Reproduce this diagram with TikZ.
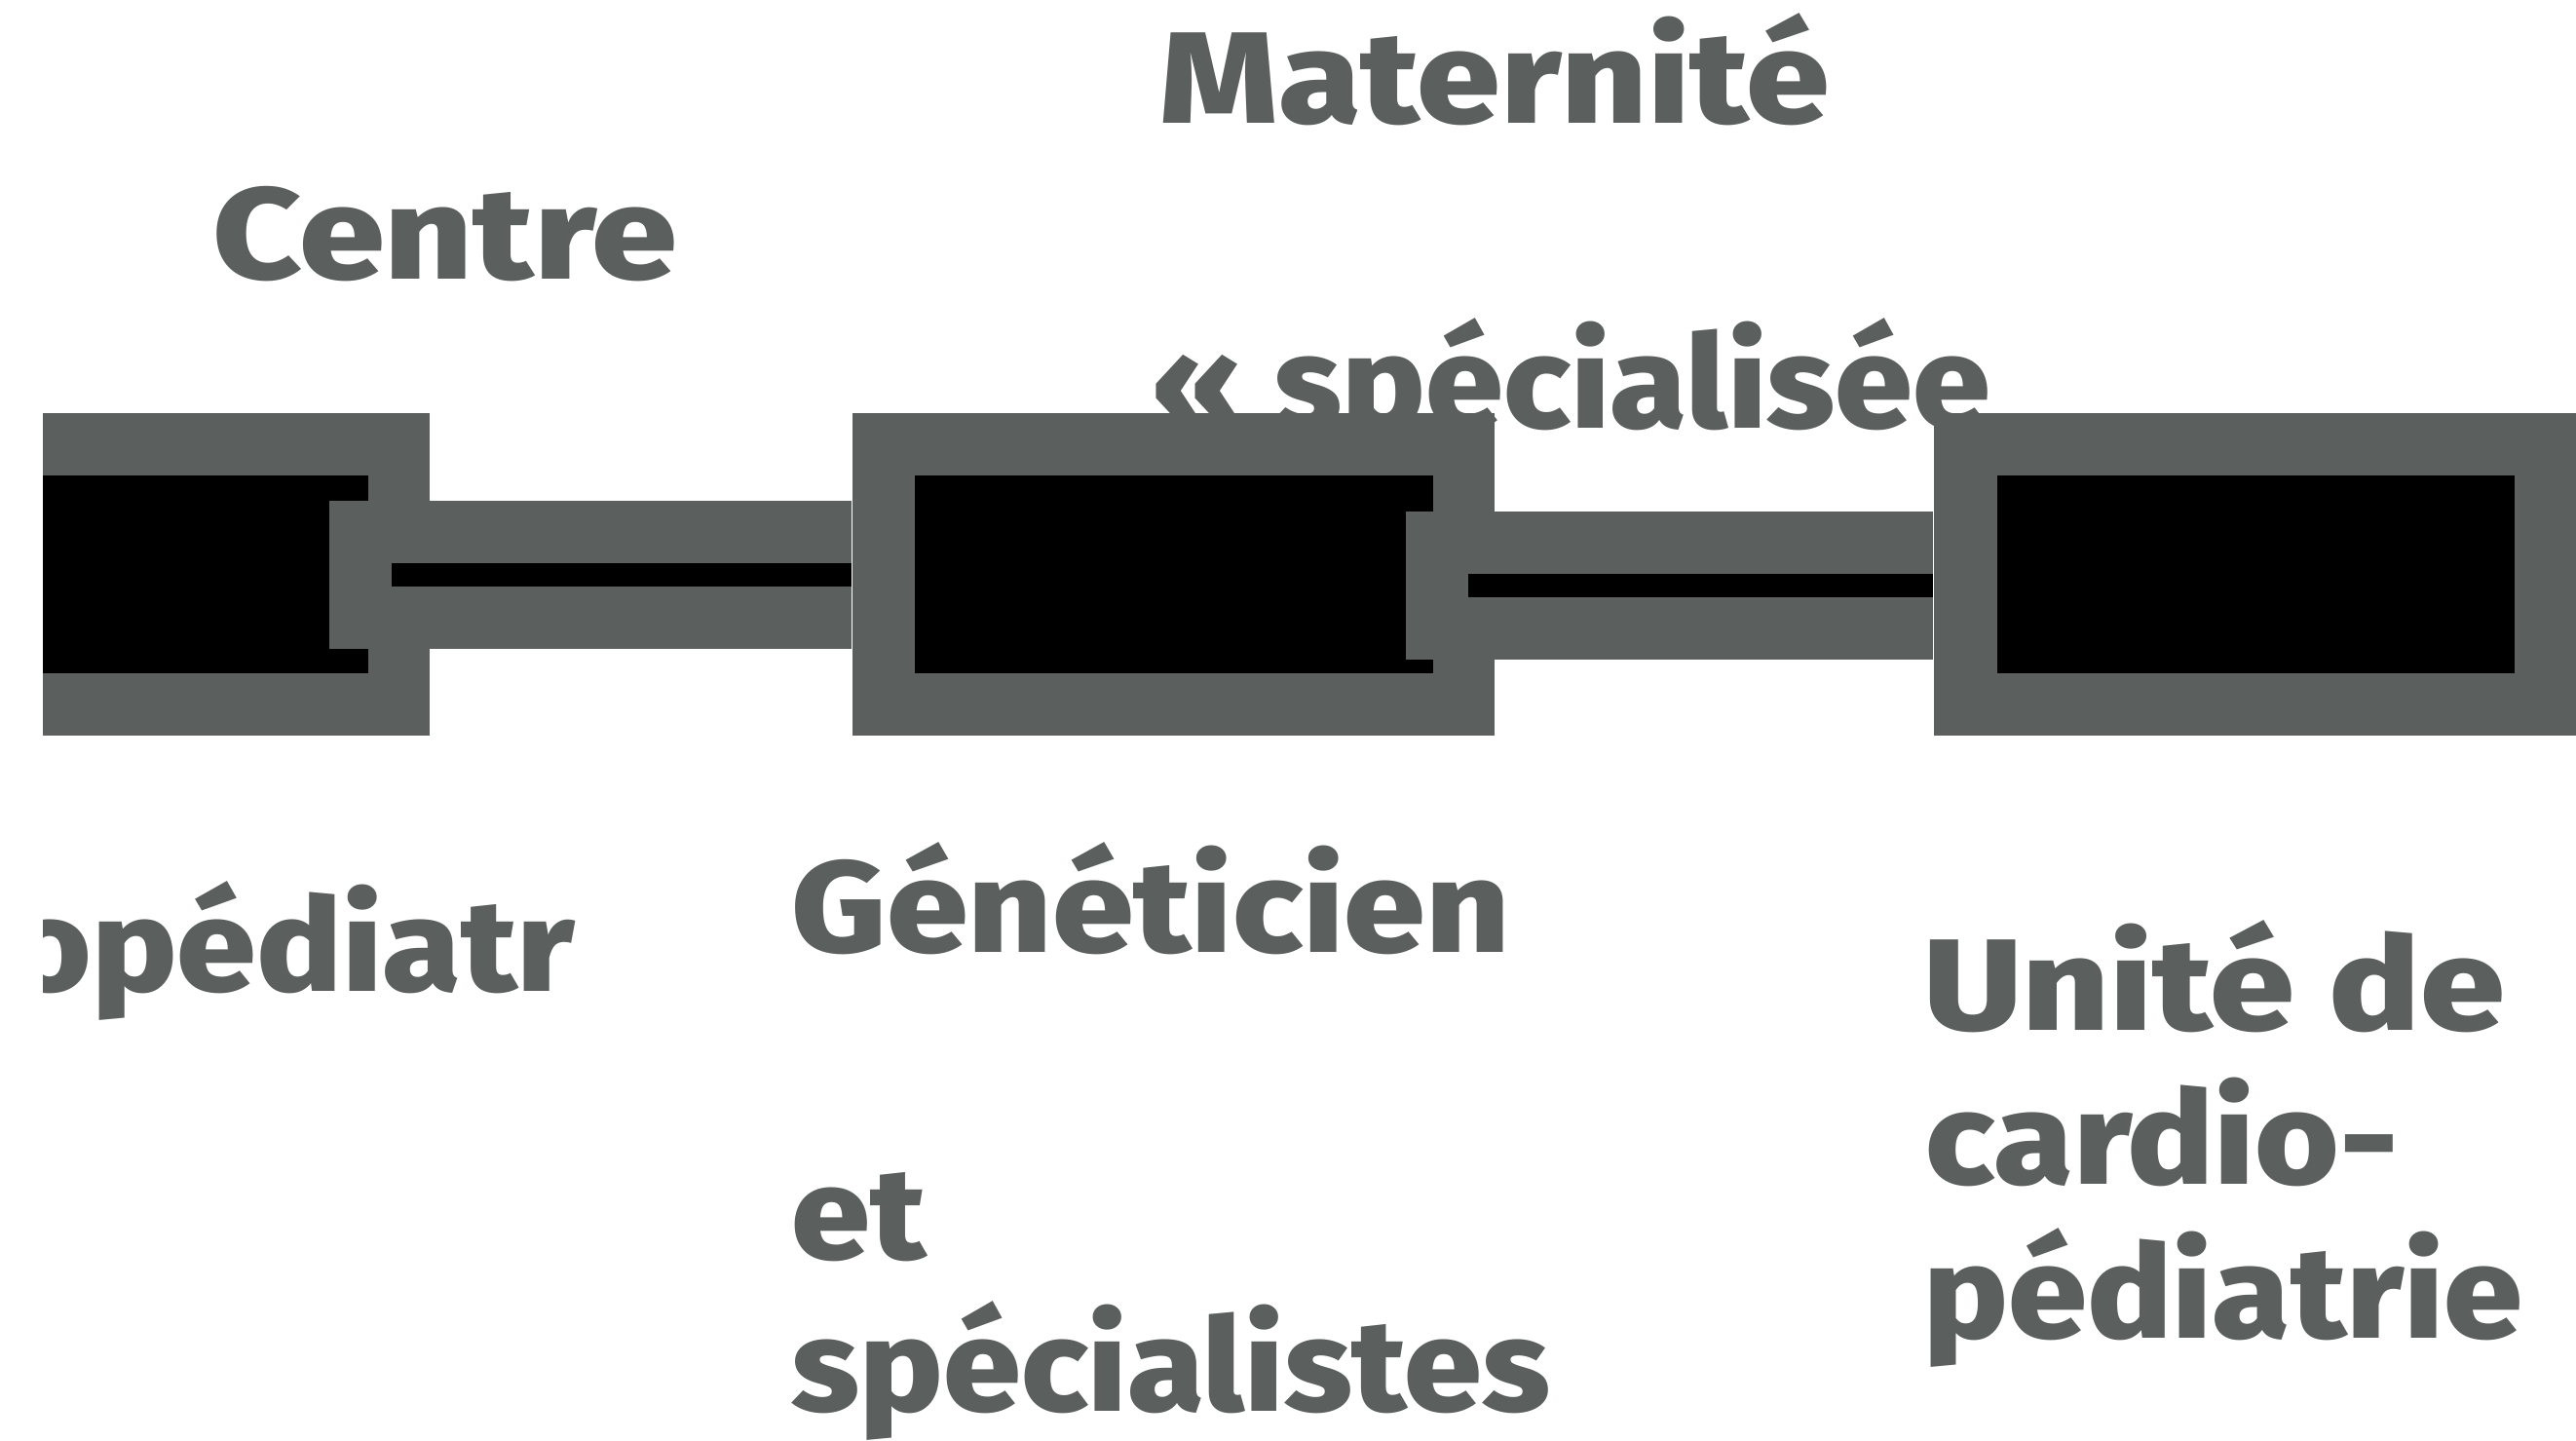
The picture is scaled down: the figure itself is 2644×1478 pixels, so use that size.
\documentclass[tikz,border=0pt]{standalone}
\usepackage{fontspec}
\IfFontExistsTF{Fira Sans Heavy}
  {\newfontfamily\labelfont{Fira Sans Heavy}[FakeStretch=1.06]}
  {\IfFontExistsTF{Fira Sans ExtraBold}
     {\newfontfamily\labelfont{Fira Sans ExtraBold}[FakeStretch=1.09]}
     {\newfontfamily\labelfont{Fira Sans}[UprightFont=* Bold, FakeStretch=1.12, FakeBold=1.2]}}
\definecolor{slate}{HTML}{5B5F5D}
% widen a label horizontally by a given factor
\newcommand\widen[2]{\scalebox{#1}[1]{#2}}
\tikzset{
  lbl/.style={anchor=base west, inner sep=0pt, text=slate,
    font=\labelfont\fontsize{38}{45}\selectfont},
  shell/.style={fill=slate, draw=none, inner sep=0pt,
    minimum height=33.1mm},
  core/.style={fill=black, draw=none, inner sep=0pt,
    minimum height=20.3mm},
  band/.style={draw=slate, line width=15.2mm, line cap=butt},
  wire/.style={draw=black, line width=2.4mm, line cap=butt}
}
\begin{document}
\begin{tikzpicture}[x=0.1mm, y=-0.1mm]
\useasboundingbox (0,0) rectangle (2644,1478);
\clip (0,0) rectangle (2644,1478);
\fill[white] (0,0) rectangle (2644,1478);

% labels (the boxes are laid over them afterwards)
\node[lbl] (mat)  at (1190,126)  {\widen{1.058}{Maternité}};
\node[lbl] (spec) at (1182,439)  {\widen{0.986}{« spécialisée}};
\node[lbl] (ctr)  at (218,286)   {\widen{1.086}{Centre}};
\begin{scope}
  \clip (44,880) rectangle (640,1100);
  \node[lbl] (ped) at (8,1017) {\widen{1.007}{opédiatr}};
\end{scope}
\node[lbl] (gen)  at (812,977)   {\widen{1.033}{Généticien}};
\node[lbl] (et)   at (812,1292)  {et};
\node[lbl] (spl)  at (812,1448)  {\widen{0.985}{spécialistes}};
\node[lbl] (ua)   at (1974,1057) {\widen{1.074}{Unité de}};
\node[lbl] (ub)   at (1976,1215) {\widen{1.02}{cardio-}};
\node[lbl] (uc)   at (1974,1373) {pédiatrie};

% the three stations
\node[shell, minimum width=39.7mm] (b1) at (242.5,589.5) {};
\node[core,  minimum width=33.4mm] (k1) at (211,589.5) {};
\node[shell, minimum width=65.9mm] (b2) at (1204.5,589.5) {};
\node[core,  minimum width=53.2mm] (k2) at (1205,589.5) {};
\node[shell, minimum width=70mm]   (b3) at (2335,589.5) {};
\node[core,  minimum width=53.1mm] (k3) at (2315.5,589.5) {};

% links between stations
\coordinate (s1) at ([xshift=-4.1mm]k1.east);
\coordinate (w1) at ([xshift=2.3mm]k1.east);
\draw[band] (s1) -- (b2.west);
\draw[wire] (w1) -- (b2.west);
\coordinate (s2) at ([xshift=-2.9mm, yshift=-1.15mm]k2.east);
\coordinate (w2) at ([xshift=3.5mm, yshift=-1.15mm]k2.east);
\coordinate (e2) at ([yshift=-1.15mm]b3.west);
\draw[band] (s2) -- (e2);
\draw[wire] (w2) -- (e2);
\end{tikzpicture}
\end{document}
